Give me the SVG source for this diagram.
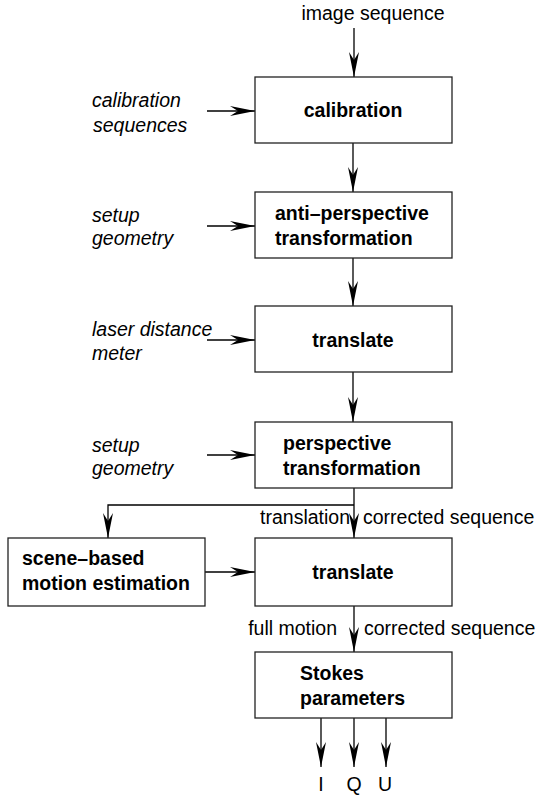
<svg xmlns="http://www.w3.org/2000/svg" width="538" height="796" viewBox="0 0 538 796">
<defs>
<marker id="ah" markerUnits="userSpaceOnUse" markerWidth="30" markerHeight="14" refX="0" refY="0" viewBox="-26 -7 27 14" orient="auto">
<path d="M0,0 L-25,-5 L-17,0 L-25,5 Z" fill="#000"/>
</marker>
</defs>
<style>
.box{fill:#fff;stroke:#222;stroke-width:1.3}
.ln{fill:none;stroke:#000;stroke-width:1.3}
.b{font-family:"Liberation Sans",Arial,sans-serif;font-weight:bold;font-size:19.5px;fill:#000}
.it{font-family:"Liberation Sans",Arial,sans-serif;font-style:italic;font-size:19.5px;fill:#000}
.t{font-family:"Liberation Sans",Arial,sans-serif;font-size:19.5px;fill:#000}
</style>
<g id="connectors">
<path class="ln" d="M354,28 V77" marker-end="url(#ah)"/>
<path class="ln" d="M207,111 H255" marker-end="url(#ah)"/>
<path class="ln" d="M353,143 V192" marker-end="url(#ah)"/>
<path class="ln" d="M207,226 H255" marker-end="url(#ah)"/>
<path class="ln" d="M353,258 V306" marker-end="url(#ah)"/>
<path class="ln" d="M207,340 H255" marker-end="url(#ah)"/>
<path class="ln" d="M353,372 V422" marker-end="url(#ah)"/>
<path class="ln" d="M207,455 H255" marker-end="url(#ah)"/>
<path class="ln" d="M354,488 V538" marker-end="url(#ah)"/>
<path class="ln" d="M354,505 H108 V538" marker-end="url(#ah)"/>
<path class="ln" d="M205,572 H255" marker-end="url(#ah)"/>
<path class="ln" d="M354,606 V652" marker-end="url(#ah)"/>
<path class="ln" d="M321,718 V767" marker-end="url(#ah)"/>
<path class="ln" d="M354,718 V767" marker-end="url(#ah)"/>
<path class="ln" d="M386,718 V767" marker-end="url(#ah)"/>
</g>
<g id="labels">
<text class="t" x="373" y="20" text-anchor="middle">image sequence</text>
<text class="it" x="92" y="107">calibration</text>
<text class="it" x="93" y="132">sequences</text>
<text class="it" x="92" y="222">setup</text>
<text class="it" x="92" y="245">geometry</text>
<text class="it" x="92" y="336">laser distance</text>
<text class="it" x="92" y="360">meter</text>
<text class="it" x="92" y="452">setup</text>
<text class="it" x="92" y="475">geometry</text>
<text class="t" x="350" y="524" text-anchor="end">translation</text>
<text class="t" x="363" y="524">corrected sequence</text>
<text class="t" x="337" y="635" text-anchor="end">full motion</text>
<text class="t" x="364" y="635">corrected sequence</text>
<text class="t" x="321" y="791" text-anchor="middle">I</text>
<text class="t" x="354" y="791" text-anchor="middle">Q</text>
<text class="t" x="385" y="791" text-anchor="middle">U</text>
</g>
<g id="calibration">
<rect class="box" x="255" y="77" width="197" height="66"/>
<text class="b" x="353" y="117" text-anchor="middle">calibration</text>
</g>
<g id="anti-perspective">
<rect class="box" x="255" y="192" width="197" height="66"/>
<text class="b" x="275" y="220">anti–perspective</text>
<text class="b" x="275" y="245">transformation</text>
</g>
<g id="translate1">
<rect class="box" x="255" y="306" width="197" height="66"/>
<text class="b" x="353" y="347" text-anchor="middle">translate</text>
</g>
<g id="perspective">
<rect class="box" x="255" y="422" width="197" height="66"/>
<text class="b" x="283" y="450">perspective</text>
<text class="b" x="283" y="475">transformation</text>
</g>
<g id="scene-based">
<rect class="box" x="8" y="538" width="197" height="68"/>
<text class="b" x="22" y="565">scene–based</text>
<text class="b" x="22" y="590">motion estimation</text>
</g>
<g id="translate2">
<rect class="box" x="255" y="538" width="197" height="68"/>
<text class="b" x="353" y="579" text-anchor="middle">translate</text>
</g>
<g id="stokes">
<rect class="box" x="255" y="652" width="197" height="66"/>
<text class="b" x="300" y="680">Stokes</text>
<text class="b" x="300" y="705">parameters</text>
</g>
</svg>
